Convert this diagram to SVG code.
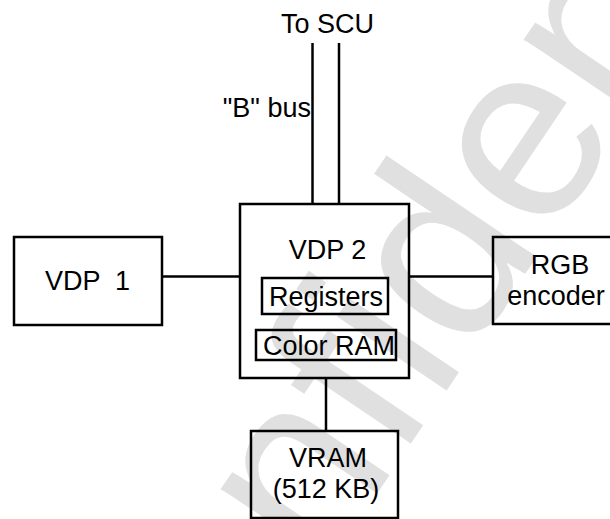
<svg xmlns="http://www.w3.org/2000/svg" width="610" height="519" viewBox="0 0 610 519">
<style>
.box{fill:none;stroke:#000;stroke-width:2.5}
.ln{fill:none;stroke:#000;stroke-width:2.5}
.t{font-family:"Liberation Sans",Arial,sans-serif;font-size:27px;fill:#000;white-space:pre}
.c{text-anchor:middle}
.wm{font-family:"Liberation Sans",Arial,sans-serif;font-size:250px;fill:#e0e0e0}
</style>
<rect width="610" height="519" fill="#fff"/>
<text class="wm" transform="translate(142,842) rotate(-56)">Confidential</text>
<g id="connectors">
<line class="ln" x1="312.5" y1="43" x2="312.5" y2="204"/>
<line class="ln" x1="339" y1="43" x2="339" y2="204"/>
<line class="ln" x1="163" y1="276.5" x2="240" y2="276.5"/>
<line class="ln" x1="409" y1="276.5" x2="493" y2="276.5"/>
<line class="ln" x1="326" y1="378" x2="326" y2="431"/>
</g>
<g id="scu"><text class="t c" x="327.5" y="33">To SCU</text></g>
<g id="bbus"><text class="t" x="311" y="117" text-anchor="end">"B" bus</text></g>
<g id="vdp2">
<rect class="box" x="240" y="204" width="169" height="174"/>
<text class="t c" x="327.5" y="259">VDP 2</text>
</g>
<g id="registers">
<rect class="box" x="262" y="278" width="126" height="36"/>
<text class="t c" x="326" y="306">Registers</text>
</g>
<g id="colorram">
<rect class="box" x="256" y="330" width="140" height="30"/>
<text class="t" x="263" y="355">Color RAM</text>
</g>
<g id="vdp1">
<rect class="box" x="14" y="237" width="148" height="88"/>
<text class="t" x="45" y="290">VDP  1</text>
</g>
<g id="rgb">
<rect class="box" x="493" y="237" width="120" height="87"/>
<text class="t c" x="560" y="274">RGB</text>
<text class="t c" x="556" y="305">encoder</text>
</g>
<g id="vram">
<rect class="box" x="251" y="431" width="147" height="87"/>
<text class="t c" x="328" y="467">VRAM</text>
<text class="t c" x="326" y="498">(512 KB)</text>
</g>
</svg>
